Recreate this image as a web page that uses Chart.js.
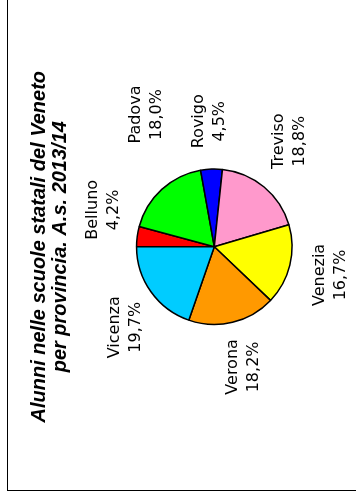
<!DOCTYPE html>
<html>
<head>
<meta charset="utf-8">
<script src="https://cdn.jsdelivr.net/npm/chart.js@4.4.1/dist/chart.umd.min.js"></script>
<style>
  html, body { margin: 0; padding: 0; background: #fff; }
  #wrap { position: relative; width: 356px; height: 497px; overflow: hidden; }
  #frame {
    position: absolute; left: 7px; top: -10px; width: 400px; height: 500px;
    border-left: 1px solid #000; border-bottom: 1px solid #000;
  }
  #pie { position: absolute; left: 0; top: 0; }
</style>
</head>
<body>
<div id="wrap">
  <div id="frame"></div>
  <canvas id="pie" width="356" height="497"></canvas>
</div>
<script>
const provinces = ["Belluno", "Padova", "Rovigo", "Treviso", "Venezia", "Verona", "Vicenza"];
const shares = [4.2, 18.0, 4.5, 18.8, 16.7, 18.2, 19.7];
const sliceColors = ["#ff0000", "#00ff00", "#0000ff", "#ff99cc", "#ffff00", "#ff9900", "#00ccff"];
const titleLines = ["Alunni nelle scuole statali del Veneto", "per provincia. A.s. 2013/14"];

// etichette esterne, ruotate come tutto il grafico
const outsideLabels = {
  id: "outsideLabels",
  afterDatasetsDraw(chart, args, opts) {
    const ctx = chart.ctx;
    const meta = chart.getDatasetMeta(0);
    const lh = opts.lineHeight;
    ctx.save();
    ctx.font = opts.font;
    ctx.fillStyle = "#000";
    ctx.textAlign = "center";
    ctx.textBaseline = "middle";
    meta.data.forEach((arc, i) => {
      const p = arc.getProps(["x", "y", "startAngle", "endAngle", "outerRadius"], true);
      const nudge = opts.nudge[provinces[i]] || [0, 0];
      const mid = (p.startAngle + p.endAngle) / 2 + nudge[0] * Math.PI / 180;
      const ux = Math.cos(mid), uy = Math.sin(mid);
      const name = provinces[i];
      const pct = shares[i].toFixed(1).replace(".", ",") + "%";
      const hh = Math.max(ctx.measureText(name).width, ctx.measureText(pct).width) / 2;
      const dist = p.outerRadius + opts.gap + nudge[1] + Math.abs(ux) * lh + Math.abs(uy) * hh;
      ctx.save();
      ctx.translate(p.x + ux * dist, p.y + uy * dist);
      ctx.rotate(-Math.PI / 2);
      ctx.fillText(name, 0, -lh / 2);
      ctx.fillText(pct, 0, lh / 2);
      ctx.restore();
    });
    ctx.restore();
  }
};

new Chart(document.getElementById("pie"), {
  type: "pie",
  data: {
    labels: provinces,
    datasets: [{
      data: shares,
      backgroundColor: sliceColors,
      borderColor: "#000",
      borderWidth: 1.5
    }]
  },
  options: {
    responsive: false,
    animation: false,
    rotation: 270,
    layout: { padding: { left: 8, right: 63.2, top: 20, bottom: 23.6 } },
    plugins: {
      legend: { display: false },
      tooltip: { enabled: false },
      title: {
        display: true,
        position: "left",
        text: titleLines,
        color: "#000",
        font: { family: "Liberation Sans", size: 20, weight: "bold", style: "italic", lineHeight: 1.05 },
        padding: { top: 20.5, bottom: 65.3 }
      },
      outsideLabels: {
        font: "16px 'DejaVu Sans'",
        lineHeight: 21,
        gap: 14,
        nudge: {
          Belluno: [10.8, -4],
          Padova: [15.3, 21.5],
          Rovigo: [0, 6],
          Treviso: [-4.4, 3],
          Vicenza: [-6.9, -8.5]
        }
      }
    }
  },
  plugins: [outsideLabels]
});
</script>
</body>
</html>
